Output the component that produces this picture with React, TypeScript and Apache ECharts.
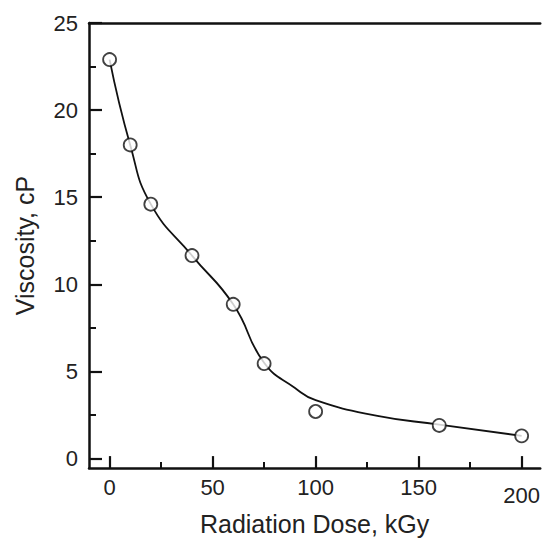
import React, { useEffect, useRef } from "react";
import * as echarts from "echarts";

// Measured data points (Radiation Dose in kGy, Viscosity in cP)
const doses = [0, 10, 20, 40, 60, 75, 100, 160, 200];
const viscosity = [22.9, 18.0, 14.6, 11.65, 8.85, 5.45, 2.7, 1.9, 1.3];

// Fitted curve
const fitDoses = [0, 10, 20, 40, 60, 75, 90, 100, 130, 160, 200];
const fitViscosity = [22.9, 18.0, 14.6, 11.65, 8.85, 5.5, 4.05, 3.35, 2.45, 1.95, 1.3];

// Tick values
const xMajorTicks = [0, 50, 100, 150, 200];
const xMinorTicks = [25, 75, 125, 175];
const yMajorTicks = [0, 5, 10, 15, 20, 25];
const yMinorTicks = [2.5, 7.5, 12.5, 17.5, 22.5];

const X_MIN = -10;
const X_MAX = 209;
const Y_MIN = -0.55;
const Y_MAX = 25;

const FONT = "'Liberation Sans', Arial, Helvetica, sans-serif";
const TEXT_COLOR = "#222";
const LINE_COLOR = "#111";

export default function App() {
  const ref = useRef<HTMLDivElement>(null);

  useEffect(() => {
    if (!ref.current) return;
    const chart = echarts.init(ref.current, undefined, { renderer: "svg" });

    const hiddenX = (position: "top" | "bottom", showLine: boolean, ticks: number[], len: number) => ({
      type: "value",
      position,
      min: X_MIN,
      max: X_MAX,
      splitLine: { show: false },
      axisLine: { show: showLine, onZero: false, lineStyle: { color: LINE_COLOR, width: 2.5 } },
      axisTick: {
        show: ticks.length > 0,
        inside: true,
        length: len,
        customValues: ticks,
        lineStyle: { color: LINE_COLOR, width: 2 },
      },
      axisLabel: { show: false },
    });

    chart.setOption({
      animation: false,
      backgroundColor: "#ffffff",
      grid: { left: 89, top: 23, right: 0, bottom: 66 },
      xAxis: [
        {
          type: "value",
          position: "bottom",
          min: X_MIN,
          max: X_MAX,
          name: "Radiation Dose, kGy",
          nameLocation: "middle",
          nameGap: 38,
          nameTextStyle: { fontFamily: FONT, fontSize: 25, color: TEXT_COLOR },
          splitLine: { show: false },
          axisLine: { show: true, onZero: false, lineStyle: { color: LINE_COLOR, width: 2.5 } },
          axisTick: {
            show: true,
            inside: true,
            length: 12,
            customValues: xMajorTicks,
            lineStyle: { color: LINE_COLOR, width: 2.2 },
          },
          axisLabel: {
            show: true,
            customValues: xMajorTicks,
            margin: 8,
            fontFamily: FONT,
            fontSize: 22,
            color: TEXT_COLOR,
            formatter: (v: number) => (v === 200 ? `{low|${v}}` : `${v}`),
            rich: { low: { fontFamily: FONT, fontSize: 22, color: TEXT_COLOR, padding: [8, 0, 0, 0] } },
          },
        },
        hiddenX("bottom", false, xMinorTicks, 6),
        hiddenX("top", true, [], 0),
      ],
      yAxis: [
        {
          type: "value",
          position: "left",
          min: Y_MIN,
          max: Y_MAX,
          name: "Viscosity, cP",
          nameLocation: "middle",
          nameGap: 52,
          nameTextStyle: { fontFamily: FONT, fontSize: 25, color: TEXT_COLOR },
          splitLine: { show: false },
          axisLine: { show: true, onZero: false, lineStyle: { color: LINE_COLOR, width: 2.5 } },
          axisTick: {
            show: true,
            inside: true,
            length: 13,
            customValues: yMajorTicks,
            lineStyle: { color: LINE_COLOR, width: 2.2 },
          },
          axisLabel: {
            show: true,
            customValues: yMajorTicks,
            margin: 11,
            fontFamily: FONT,
            fontSize: 22,
            color: TEXT_COLOR,
          },
        },
        {
          type: "value",
          position: "left",
          min: Y_MIN,
          max: Y_MAX,
          splitLine: { show: false },
          axisLine: { show: false, onZero: false },
          axisTick: {
            show: true,
            inside: true,
            length: 7,
            customValues: yMinorTicks,
            lineStyle: { color: LINE_COLOR, width: 2 },
          },
          axisLabel: { show: false },
        },
      ],
      series: [
        {
          name: "Fit",
          type: "line",
          xAxisIndex: 0,
          yAxisIndex: 0,
          data: fitDoses.map((d, i) => [d, fitViscosity[i]]),
          smooth: 0.5,
          showSymbol: false,
          symbol: "none",
          lineStyle: { color: LINE_COLOR, width: 1.8 },
          z: 2,
        },
        {
          name: "Viscosity",
          type: "scatter",
          xAxisIndex: 0,
          yAxisIndex: 0,
          data: doses.map((d, i) => [d, viscosity[i]]),
          symbol: "circle",
          symbolSize: 13,
          itemStyle: { color: "#ffffff", borderColor: LINE_COLOR, borderWidth: 1.8 },
          z: 3,
        },
      ],
    });

    return () => chart.dispose();
  }, []);

  return (
    <div
      ref={ref}
      style={{ position: "absolute", left: 0, top: 0, width: 543, height: 541, background: "#fff" }}
    />
  );
}
